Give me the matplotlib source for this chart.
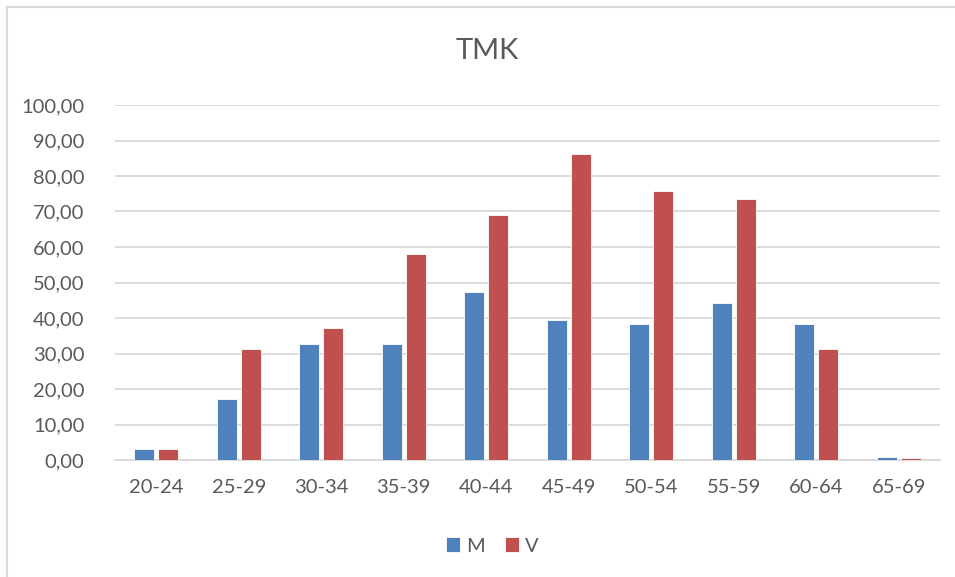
"""
TMK by age group, M vs V, Excel-style clustered bars.
"""

import numpy as np
import matplotlib.pyplot as plt
from matplotlib.lines import Line2D

age_groups = ["20-24", "25-29", "30-34", "35-39", "40-44",
              "45-49", "50-54", "55-59", "60-64", "65-69"]
m_values = [3.1, 17.3, 32.8, 32.8, 47.3, 39.4, 38.3, 44.1, 38.3, 0.9]
v_values = [3.1, 31.4, 37.3, 57.9, 69.0, 86.1, 75.9, 73.5, 31.4, 0.6]
y_ticks = np.arange(0, 101, 10)

blue = "#4F81BD"
red = "#C0504D"
text_gray = "#595959"
grid_gray = "#D9D9D9"

plt.rcParams['font.family'] = ['Lato', 'DejaVu Sans']

fig = plt.figure(figsize=(9.55, 5.77), dpi=100)
ax = fig.add_axes([115 / 955, 117 / 577, 825 / 955, 355 / 577])

x = np.arange(len(age_groups))
w = 0.24
ax.bar(x - 0.145, m_values, w, color=blue, edgecolor="white", linewidth=0.6,
       label="M", zorder=3)
ax.bar(x + 0.145, v_values, w, color=red, edgecolor="white", linewidth=0.6,
       label="V", zorder=3)

ax.set_xlim(-0.5, len(age_groups) - 0.5)
ax.set_ylim(0, 100)
ax.set_yticks(y_ticks)
ax.set_yticklabels([f"{v:.2f}".replace(".", ",") for v in y_ticks])
ax.set_xticks(x)
ax.set_xticklabels(age_groups)

ax.yaxis.grid(True, color=grid_gray, linewidth=1.3, zorder=0)
for s in ["top", "right", "left"]:
    ax.spines[s].set_visible(False)
ax.spines["bottom"].set_color(grid_gray)
ax.spines["bottom"].set_linewidth(1.3)
ax.tick_params(axis="both", length=0, labelsize=14.5, colors=text_gray)
ax.tick_params(axis="y", pad=22)
ax.tick_params(axis="x", pad=14)

# title and legend sit in figure coordinates, like the Excel chart area
fig.text(487 / 955, 1 - 51 / 577, "TMK", ha="center", va="center",
         fontsize=21, color=text_gray)
fig.legend(loc="center", bbox_to_anchor=(492 / 955, 1 - 546 / 577),
           ncol=2, frameon=False, fontsize=14.5, labelcolor=text_gray,
           handlelength=0.7, handleheight=0.7, handletextpad=0.3,
           columnspacing=1.0)

# chart area border (only top and left edges show in the screenshot)
fig.add_artist(Line2D([7 / 955, 1], [1 - 7 / 577, 1 - 7 / 577],
                      color=grid_gray, linewidth=1.5))
fig.add_artist(Line2D([7 / 955, 7 / 955], [0, 1 - 7 / 577],
                      color=grid_gray, linewidth=1.5))

fig.savefig("out.png", dpi=100, facecolor="white")
